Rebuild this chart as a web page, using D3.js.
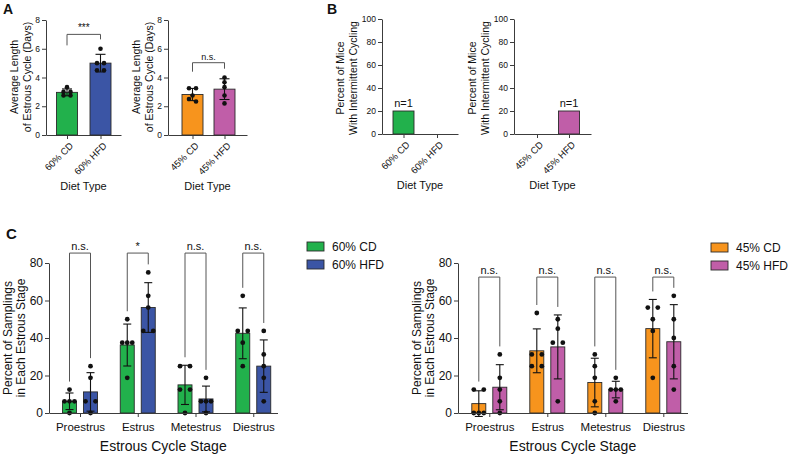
<!DOCTYPE html>
<html><head><meta charset="utf-8">
<script src="https://cdn.jsdelivr.net/npm/d3@7"></script>
<style>
body{margin:0;background:#fff}
svg{font-family:"Liberation Sans",Arial,Helvetica,sans-serif}
</style></head><body>
<svg id="fig" width="790" height="457"></svg>
<script>
// ---------------- DATA ----------------
const dietA1 = ["60% CD", "60% HFD"];
const dietA2 = ["45% CD", "45% HFD"];
const cycleLenA1 = [[3.33, 3.0, 3.0, 2.75, 2.75], [6.0, 5.0, 5.0, 4.5, 4.5]];
const cycleLenA2 = [[3.25, 3.25, 2.75, 2.5, 2.33], [4.0, 3.67, 3.33, 2.75, 2.2]];
const sigA = ["***", "n.s."];
const yTicksA = [0, 2, 4, 6, 8];

const intermittentB1 = [20, 0];
const intermittentB2 = [0, 20];
const nMiceB1 = [1, 0];
const nMiceB2 = [0, 1];
const yTicksB = [0, 20, 40, 60, 80, 100];

const stages = ["Proestrus", "Estrus", "Metestrus", "Diestrus"];
const seriesC1 = ["60% CD", "60% HFD"];
const seriesC2 = ["45% CD", "45% HFD"];
const cd60 = [[12.5, 6.25, 6.25, 6.25, 0], [50, 37.5, 37.5, 37.5, 18.75], [25, 25, 12.5, 12.5, 0], [62.5, 43.75, 43.75, 37.5, 25]];
const hfd60 = [[25, 18.75, 6.25, 6.25, 0], [75, 62.5, 56.25, 43.75, 43.75], [18.75, 6.25, 6.25, 6.25, 0], [43.75, 31.25, 25, 18.75, 6.25]];
const cd45 = [[12.5, 12.5, 0, 0, 0], [53.33, 31.25, 31.25, 25, 25], [31.25, 25, 18.75, 6.25, 0], [56.25, 56.25, 50, 43.75, 18.75]];
const hfd45 = [[31.25, 18.75, 12.5, 6.25, 0], [50, 45, 37.5, 37.5, 6.25], [18.75, 12.5, 12.5, 12.5, 6.25], [62.5, 50, 40, 25, 12.5]];
const sigC1 = ["n.s.", "*", "n.s.", "n.s."];
const sigC2 = ["n.s.", "n.s.", "n.s.", "n.s."];
const yTicksC = [0, 20, 40, 60, 80];

// ---------------- STYLE ----------------
const COL = { cd60: "#22b14c", hfd60: "#3b55a5", cd45: "#f7941d", hfd45: "#c05ea8" };
const AX = "#3c3c3c";
const BR = "#555";
const svg = d3.select("#fig");

function makeX(ax0, ax1, c0, step) {
  return d3.scaleLinear().domain([-(c0 - ax0) / step, (ax1 - c0) / step]).range([ax0, ax1]);
}
function styleAxis(ax) {
  ax.attr("font-family", null).attr("font-size", null);
  ax.select(".domain").attr("stroke", AX);
  ax.selectAll(".tick line").attr("stroke", AX);
  ax.selectAll(".tick text").attr("fill", "#111");
}
function yAxis(y, x0, ticks, fs) {
  const ax = svg.append("g").attr("transform", `translate(${x0},0)`)
    .call(d3.axisLeft(y).tickValues(ticks).tickSize(4).tickSizeOuter(0).tickPadding(2).tickFormat(d3.format("d")));
  styleAxis(ax);
  ax.selectAll(".tick text").attr("font-size", fs);
}
function xAxis(x, y0, labels, fs, rotated) {
  const ax = svg.append("g").attr("transform", `translate(0,${y0})`)
    .call(d3.axisBottom(x).tickValues(d3.range(labels.length)).tickSize(4).tickSizeOuter(0).tickFormat(i => labels[i]));
  styleAxis(ax);
  const t = ax.selectAll(".tick text").attr("font-size", fs);
  if (rotated) {
    t.attr("y", null).attr("dy", "0.35em").attr("text-anchor", "end").attr("transform", "translate(4,9) rotate(-45)");
  } else {
    t.attr("y", 10);
  }
}
function yTitle(lines, xBase, yc, fs, gap) {
  const t = svg.append("text").attr("transform", `translate(${xBase},${yc}) rotate(-90)`)
    .attr("text-anchor", "middle").attr("font-size", fs).attr("fill", "#111");
  lines.forEach((l, i) => t.append("tspan").attr("x", 0).attr("y", i * gap).text(l));
}
function label(txt, x, y, fs, opts = {}) {
  return svg.append("text").attr("x", x).attr("y", y).attr("font-size", fs)
    .attr("text-anchor", opts.anchor || "middle").attr("font-weight", opts.bold ? "bold" : null)
    .attr("fill", "#111").text(txt);
}
function swarm(vals, y, d) {
  const pts = vals.map(v => ({ v, py: y(v) })).sort((a, b) => a.py - b.py);
  const cl = [];
  pts.forEach(p => {
    const c = cl[cl.length - 1];
    if (c && Math.abs(p.py - c[0].py) < 3.5) c.push(p); else cl.push([p]);
  });
  cl.forEach(c => {
    const k = c.length;
    c.forEach((p, j) => { p.dx = k === 2 ? (j ? d : -d) : (j - (k - 1) / 2) * d; });
  });
  return pts;
}
function barWithPoints(cx, vals, y, bw, color, cap, r, d) {
  const m = d3.mean(vals), sd = d3.deviation(vals);
  svg.append("rect").attr("x", cx - bw / 2).attr("y", y(m)).attr("width", bw).attr("height", y(0) - y(m))
    .attr("fill", color).attr("stroke", "#2a2a2a").attr("stroke-width", 0.9);
  const g = svg.append("g").attr("stroke", "#111").attr("stroke-width", 1.1);
  g.append("line").attr("x1", cx).attr("x2", cx).attr("y1", y(m - sd)).attr("y2", y(m + sd));
  g.append("line").attr("x1", cx - cap / 2).attr("x2", cx + cap / 2).attr("y1", y(m + sd)).attr("y2", y(m + sd));
  g.append("line").attr("x1", cx - cap / 2).attr("x2", cx + cap / 2).attr("y1", y(m - sd)).attr("y2", y(m - sd));
  swarm(vals, y, d).forEach(p => {
    svg.append("circle").attr("cx", cx + p.dx).attr("cy", p.py).attr("r", r).attr("fill", "#111");
  });
  return Math.min(y(m + sd), y(d3.max(vals)));
}
function bracket(xl, xr, yTop, yl, yr, txt, fs) {
  svg.append("path").attr("d", `M${xl},${yl}V${yTop}H${xr}V${yr}`)
    .attr("fill", "none").attr("stroke", BR).attr("stroke-width", 1);
  label(txt, (xl + xr) / 2, yTop - 3, fs);
}

// ---------------- PANEL A ----------------
function panelA(cfg) {
  const x = makeX(cfg.ax0, cfg.ax1, cfg.c0, cfg.step);
  const y = d3.scaleLinear().domain([0, 8]).range([135, 20]);
  yAxis(y, cfg.ax0, yTicksA, 8.5);
  xAxis(x, 135, cfg.cats, 9.5, true);
  cfg.vals.forEach((v, i) => barWithPoints(x(i), v, y, 21, cfg.colors[i], 10, 2.3, 3.5));
  const yt = y(cfg.brTop);
  bracket(x(0), x(1), yt, yt + cfg.legs[0], yt + cfg.legs[1], cfg.sig, cfg.sig === "***" ? 10 : 9);
  yTitle(["Average Length", "of Estrous Cycle (Days)"], cfg.ax0 - 28.5, 77, 10.5, 13);
  label("Diet Type", (cfg.ax0 + cfg.ax1) / 2, 190, 11);
}
panelA({ ax0: 46, ax1: 121, c0: 67, step: 33.5, cats: dietA1, vals: cycleLenA1, colors: [COL.cd60, COL.hfd60], brTop: 7.0, legs: [11, 5], sig: sigA[0] });
panelA({ ax0: 168, ax1: 247, c0: 192.5, step: 32, cats: dietA2, vals: cycleLenA2, colors: [COL.cd45, COL.hfd45], brTop: 5.03, legs: [9, 6], sig: sigA[1] });

// ---------------- PANEL B ----------------
function panelB(cfg) {
  const x = makeX(cfg.ax0, cfg.ax1, cfg.c0, cfg.step);
  const y = d3.scaleLinear().domain([0, 100]).range([134, 19]);
  cfg.vals.forEach((v, i) => {
    if (v > 0) {
      svg.append("rect").attr("x", x(i) - 10.5).attr("y", y(v)).attr("width", 21).attr("height", y(0) - y(v))
        .attr("fill", cfg.colors[i]).attr("stroke", "#2a2a2a").attr("stroke-width", 0.9);
    }
    if (cfg.n[i] > 0) label("n=" + cfg.n[i], x(i), y(v) - 4, 11);
  });
  yAxis(y, cfg.ax0, yTicksB, 8.5);
  xAxis(x, 134, cfg.cats, 9.5, true);
  yTitle(["Percent of Mice", "With Intermittent Cycling"], cfg.ax0 - 38, 78, 10.5, 12.5);
  label("Diet Type", (cfg.ax0 + cfg.ax1) / 2, 189, 11);
}
panelB({ ax0: 382, ax1: 458, c0: 403.5, step: 33.5, cats: dietA1, vals: intermittentB1, n: nMiceB1, colors: [COL.cd60, COL.hfd60] });
panelB({ ax0: 514, ax1: 591, c0: 537, step: 32, cats: dietA2, vals: intermittentB2, n: nMiceB2, colors: [COL.cd45, COL.hfd45] });

// ---------------- PANEL C ----------------
function panelC(cfg) {
  const x = makeX(cfg.ax0, cfg.ax1, cfg.c0, cfg.step);
  const y = d3.scaleLinear().domain([0, 80]).range([413, 263]);
  const tops = [[], []];
  cfg.series.forEach((s, si) => s.forEach((v, gi) => {
    const cx = x(gi) + (si === 0 ? -10.5 : 10.5);
    tops[si][gi] = barWithPoints(cx, v, y, 14, cfg.colors[si], 8, 2.4, 5);
  }));
  yAxis(y, cfg.ax0, yTicksC, 12);
  xAxis(x, 413, stages, 11.5, false);
  stages.forEach((s, gi) => {
    const yt = y(cfg.brTop);
    bracket(x(gi) - 10.5, x(gi) + 10.5, yt, tops[0][gi] - 8, tops[1][gi] - 8, cfg.sig[gi], 11);
  });
  yTitle(["Percent of Samplings", "in Each Estrous Stage"], cfg.ax0 - 37, 338, 12, 13);
  label("Estrous Cycle Stage", (cfg.ax0 + cfg.ax1) / 2, 451, 14);
  cfg.names.forEach((n, i) => {
    svg.append("rect").attr("x", cfg.lx).attr("y", cfg.ly + i * 18).attr("width", 17).attr("height", 9)
      .attr("fill", cfg.colors[i]).attr("stroke", "#2a2a2a").attr("stroke-width", 0.9);
    label(n, cfg.lx + 25, cfg.ly + 9 + i * 18, 12, { anchor: "start" });
  });
}
panelC({ ax0: 49, ax1: 277.5, c0: 80, step: 57.75, series: [cd60, hfd60], names: seriesC1, colors: [COL.cd60, COL.hfd60], sig: sigC1, brTop: 85.3, lx: 307, ly: 242 });
panelC({ ax0: 458, ax1: 687.5, c0: 489.3, step: 58, series: [cd45, hfd45], names: seriesC2, colors: [COL.cd45, COL.hfd45], sig: sigC2, brTop: 72.5, lx: 711, ly: 243 });

// panel letters
label("A", 3, 14, 14, { anchor: "start", bold: true });
label("B", 327, 14, 14, { anchor: "start", bold: true });
label("C", 6, 239, 15, { anchor: "start", bold: true });
</script>
</body></html>
